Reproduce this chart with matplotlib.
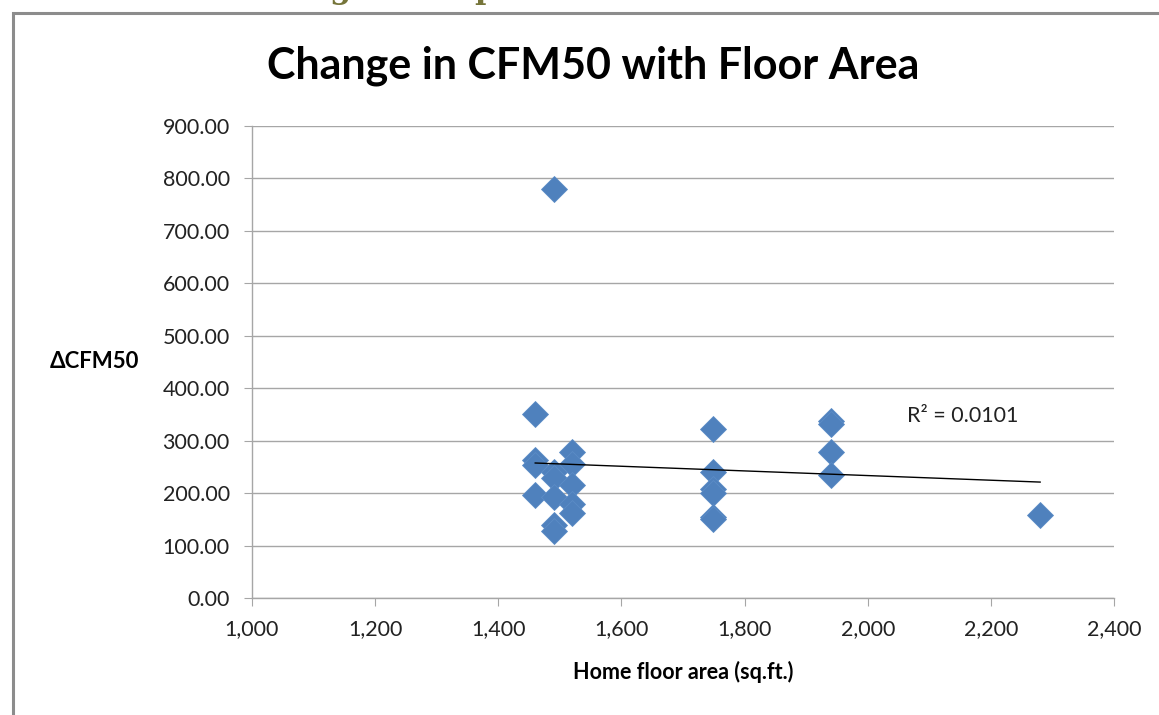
"""Change in CFM50 with floor area - Excel-style scatter with linear trendline."""
import numpy as np
import matplotlib
matplotlib.use("Agg")
import matplotlib.pyplot as plt
from matplotlib.patches import Rectangle
from matplotlib.ticker import FuncFormatter, MultipleLocator

plt.rcParams["font.family"] = ["Lato", "DejaVu Sans"]

# floor area (sq.ft.) and change in CFM50
floor_area = [1460, 1460, 1460, 1460,
              1490, 1490, 1490, 1490, 1490, 1490,
              1520, 1520, 1520, 1520, 1520,
              1748, 1748, 1748, 1748, 1748, 1748,
              1940, 1940, 1940, 1940,
              2280]
delta_cfm50 = [350, 263, 253, 197,
               780, 240, 228, 193, 140, 127,
               278, 255, 215, 180, 162,
               322, 240, 207, 200, 155, 150,
               337, 332, 278, 234,
               158]
r2_label = "R\u00b2 = 0.0101"

BLUE = "#4F81BD"
GRID = "#A6A6A6"

fig = plt.figure(figsize=(11.59, 7.15), dpi=100)
ax = fig.add_axes([0.2174, 0.1636, 0.7438, 0.6602])

x = np.array(floor_area, dtype=float)
y = np.array(delta_cfm50, dtype=float)
ax.plot(x, y, linestyle="none", marker="D", markersize=13.5,
        color=BLUE, markeredgecolor="#5B8CC6", markeredgewidth=0.6, zorder=3)

# linear trendline over the data range
slope, icpt = np.polyfit(x, y, 1)
xt = np.array([x.min(), x.max()])
ax.plot(xt, slope * xt + icpt, color="black", lw=1.0, zorder=4)

ax.text(2064, 347, r2_label, fontsize=15.5, ha="left", va="center", color="#222222")

ax.set_xlim(1000, 2400)
ax.set_ylim(0, 900)
ax.xaxis.set_major_locator(MultipleLocator(200))
ax.yaxis.set_major_locator(MultipleLocator(100))
ax.xaxis.set_major_formatter(FuncFormatter(lambda v, p: f"{v:,.0f}"))
ax.yaxis.set_major_formatter(FuncFormatter(lambda v, p: f"{v:.2f}"))
ax.grid(axis="y", color=GRID, lw=1.0)
ax.set_axisbelow(True)
for side in ("top", "right"):
    ax.spines[side].set_visible(False)
for side in ("left", "bottom"):
    ax.spines[side].set_color(GRID)
    ax.spines[side].set_linewidth(1.0)
ax.tick_params(axis="both", direction="out", length=6, color=GRID,
               labelsize=15.5, labelcolor="#222222")
ax.tick_params(axis="x", pad=9)
ax.tick_params(axis="y", pad=10)

ax.set_xlabel("Home floor area (sq.ft.)", fontsize=15.5, fontweight="bold", labelpad=16)
fig.text(50 / 1159, 1 - 362 / 715, "\u0394CFM50", fontsize=16, fontweight="bold",
         ha="left", va="center")

fig.text(593 / 1159, 1 - 66 / 715, "Change in CFM50 with Floor Area",
         fontsize=31, fontweight="bold", ha="center", va="center")

# chart frame (left and top edges visible)
fig.patches.append(Rectangle((13 / 1159, -0.1), 1.2, 1 - 13.5 / 715 + 0.1,
                             transform=fig.transFigure, fill=False,
                             edgecolor="#8C8C8C", lw=2.2))

# heading fragments of the page above, cut off by the top edge
for xp, ch in ((340, "g"), (485, "p")):
    fig.text(xp / 1159, 1 + 2 / 715, ch, fontsize=22, family="DejaVu Serif",
             fontweight="bold", color="#76753A", ha="center", va="baseline")

fig.savefig("out.png", dpi=100)
